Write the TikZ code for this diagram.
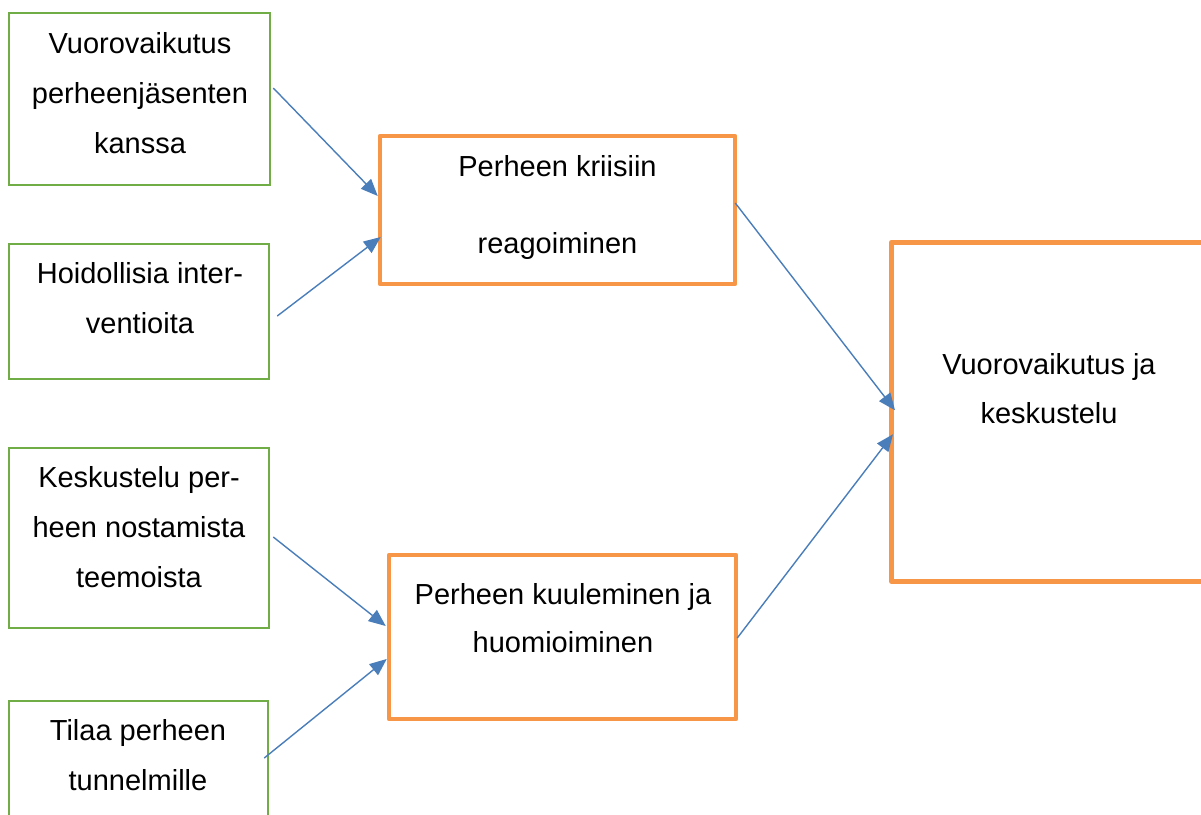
\documentclass[tikz,border=0pt]{standalone}
\usepackage{fontspec}
\setmainfont{Liberation Sans}
\usetikzlibrary{arrows.meta}
\definecolor{gboxc}{HTML}{70AD47}
\definecolor{oboxc}{HTML}{F79646}
\definecolor{arrc}{HTML}{4A7EBB}
\tikzset{
  gbox/.style={draw=gboxc, line width=2.5pt, rectangle, inner sep=0pt},
  obox/.style={draw=oboxc, line width=4.5pt, rectangle, inner sep=0pt, line join=round},
  txt/.style={align=center, inner sep=0pt, font=\fontsize{29}{50}\selectfont},
  conn/.style={draw=arrc, line width=1.4pt, -{Triangle[length=17pt,width=14pt]}}
}
\begin{document}
\begin{tikzpicture}[x=1pt,y=-1pt]
\useasboundingbox (0,0) rectangle (1201,814);
\clip (0,0) rectangle (1201,814);
% green boxes
\node[gbox, minimum width=261, minimum height=172] (g1) at (139.5,99) {};
\node[txt] (t1) at (140,93) {Vuorovaikutus\\perheenjäsenten\\kanssa};
\node[gbox, minimum width=260, minimum height=135] (g2) at (139,311.5) {};
\node[txt] (t2) at (140,298) {Hoidollisia inter-\\ventioita};
\node[gbox, minimum width=260, minimum height=180] (g3) at (139,538) {};
\node[txt] (t3) at (139,527) {Keskustelu per-\\heen nostamista\\teemoista};
\node[gbox, minimum width=259, minimum height=160] (g4) at (138.5,781) {};
\node[txt] (t4) at (138,755) {Tilaa perheen\\tunnelmille};
% orange boxes
\node[obox, minimum width=355, minimum height=148] (oa) at (557.5,210) {};
\node[txt, font=\fontsize{29}{77}\selectfont] (ta) at (557.5,207) {Perheen kriisiin\\reagoiminen};
\node[obox, minimum width=347, minimum height=164] (ob) at (562.5,637) {};
\node[txt, font=\fontsize{29}{48}\selectfont] (tb) at (563,618) {Perheen kuuleminen ja\\huomioiminen};
\node[obox, minimum width=400, minimum height=339, anchor=north west] (oc) at (889,240) {};
\node[txt, font=\fontsize{29}{49}\selectfont] (tc) at (1049,389) {Vuorovaikutus ja\\keskustelu};
% connectors
\draw[conn] ([shift={(2,-11)}]g1.east) -- ([shift={(0,-14)}]oa.west);
\draw[conn] ([shift={(7,4.5)}]g2.east) -- ([shift={(3,27)}]oa.west);
\draw[conn] ([shift={(3,-1)}]g3.east) -- ([shift={(-1,-11)}]ob.west);
\draw[conn] ([shift={(-5,-23)}]g4.east) -- ([shift={(0,22)}]ob.west);
\draw[conn] ([shift={(-2,-7)}]oa.east) -- ([shift={(6,-1.5)}]oc.west);
\draw[conn] ([shift={(-1,1)}]ob.east) -- ([shift={(4,22.5)}]oc.west);
\end{tikzpicture}
\end{document}
